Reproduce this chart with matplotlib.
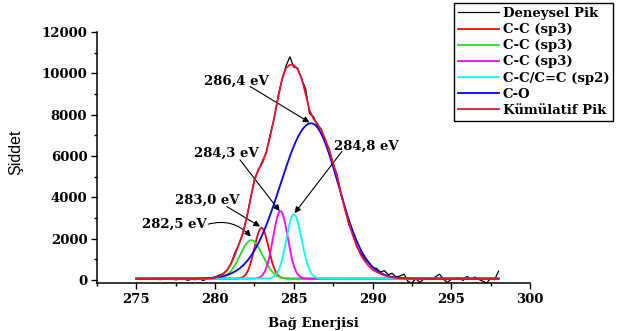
import numpy as np
import matplotlib
matplotlib.use("Agg")
import matplotlib.pyplot as plt
from matplotlib.ticker import MultipleLocator

# ---------------- data ----------------
# binding energy grid for measured / cumulative curves: 275..298 eV, 0.25 eV step
exp_start, exp_stop = 275.0, 298.0
exp_counts = [
    40, 60, 20, 55, 30, 70, 10, 45, 25, 60, 0, 40, 65, -20, 30, 10, 55, -30, 60, 90,
    140, 230, 300, 470, 780, 1300, 1700, 2250, 3000, 3900, 4900, 5300, 5750, 6150, 7050, 7800,
    8900, 9700, 10350, 10800, 10300, 10250, 9700, 9250, 8050, 7900, 7450, 7300,
    6700, 6350, 5550, 5100, 4100, 3500, 2650, 2250, 1600, 1300, 1000, 850,
    600, 560, 380, 450, 250, 320, 140, 190, 280, -80, -150, 60, -120, 40, 90, 20,
    150, 280, 40, -130, 30, 70, 110, -30, 170, 60, 140, 20, -60, -150, 80, 10, 420,
]
cum_counts = [
    70, 70, 70, 70, 70, 70, 70, 70, 70, 70, 70, 70, 70, 70, 70, 70, 70, 70, 70, 80,
    110, 170, 270, 450, 760, 1200, 1700, 2200, 2950, 3950, 4800, 5350, 5650, 6200, 6950, 7850,
    8800, 9700, 10250, 10420, 10400, 10200, 9750, 9000, 8200, 7800, 7550, 7250,
    6800, 6250, 5650, 5000, 4200, 3400, 2750, 2150, 1650, 1220, 920, 680,
    500, 390, 300, 220, 160, 120, 95, 80, 70, 70, 70, 70, 70, 70, 70, 70,
    70, 70, 70, 70, 70, 70, 70, 70, 70, 70, 70, 70, 70, 70, 70, 70, 70,
]

# fitted components: centre (eV), height, left sigma, right sigma
comp_labels = ["C-C (sp3)", "C-C (sp3)", "C-C (sp3)", "C-C/C=C (sp2)", "C-O"]
comp_colors = ["#ff0000", "#22dd22", "#ff00ff", "#00ffff", "#0000ff"]
comp_centre = [282.95, 282.3, 284.15, 285.0, 286.1]
comp_height = [2460, 1860, 3270, 3120, 7520]
comp_sig_l = [0.45, 0.72, 0.47, 0.48, 1.95]
comp_sig_r = [0.45, 0.72, 0.47, 0.5, 1.72]
baseline = 60

exp_label = "Deneysel Pik"
cum_label = "Kümülatif Pik"

annot_texts = ["286,4 eV", "284,3 eV", "283,0 eV", "282,5 eV", "284,8 eV"]

x_ticks = [275, 280, 285, 290, 295, 300]
y_ticks = [0, 2000, 4000, 6000, 8000, 10000, 12000]

# ---------------- figure ----------------
plt.rcParams['font.family'] = ['DejaVu Serif']
plt.rcParams['font.weight'] = 'bold'

W, H = 619, 331
fig = plt.figure(figsize=(W / 100, H / 100), dpi=100)
ax = fig.add_axes([97 / W, 1 - 283 / H, (530 - 97) / W, (283 - 32) / H])

xe = np.linspace(exp_start, exp_stop, len(exp_counts))
xc = np.linspace(exp_start, exp_stop, len(cum_counts))
xf = np.linspace(exp_start, exp_stop, 921)

ax.plot(xe, exp_counts, color="black", lw=0.9, label=exp_label, zorder=2)

for lab, col, c, h, sl, sr in zip(comp_labels, comp_colors, comp_centre,
                                  comp_height, comp_sig_l, comp_sig_r):
    sig = np.where(xf < c, sl, sr)
    y = h * np.exp(-0.5 * ((xf - c) / sig) ** 2)
    ax.plot(xf, y + baseline, color=col, lw=1.3, label=lab, zorder=3)

ax.plot(xc, cum_counts, color="#f01030", lw=1.3, label=cum_label, zorder=4)

# annotations
arrow_kw = dict(arrowstyle="-|>", color="black", lw=0.8, mutation_scale=9,
                shrinkA=0, shrinkB=0)
fs = 9.5
ax.text(281.33, 9607, annot_texts[0], ha="center", va="center", fontsize=fs)
ax.annotate("", xy=(286.0, 7620), xytext=(282.22, 9365), arrowprops=arrow_kw)
ax.text(280.71, 6138, annot_texts[1], ha="center", va="center", fontsize=fs)
ax.annotate("", xy=(284.1, 3330), xytext=(281.58, 5813), arrowprops=arrow_kw)
ax.text(279.52, 3876, annot_texts[2], ha="center", va="center", fontsize=fs)
ax.annotate("", xy=(282.86, 2583), xytext=(280.74, 3551), arrowprops=arrow_kw)
ax.text(277.44, 2698, annot_texts[3], ha="center", va="center", fontsize=fs)
ax.annotate("", xy=(282.27, 2098), xytext=(279.57, 2698),
            arrowprops=dict(arrow_kw, connectionstyle="arc3,rad=-0.3"))
ax.text(289.62, 6458, annot_texts[4], ha="center", va="center", fontsize=fs)
ax.annotate("", xy=(285.05, 3231), xytext=(288.05, 6216), arrowprops=arrow_kw)

# axes
ax.set_xlim(272.5, 300)
ax.set_ylim(-150, 12000)
ax.set_xticks(x_ticks)
ax.set_yticks(y_ticks)
ax.xaxis.set_minor_locator(MultipleLocator(2.5))
ax.yaxis.set_minor_locator(MultipleLocator(1000))
ax.tick_params(which="major", direction="out", length=4, width=1, labelsize=9.5, pad=3)
ax.tick_params(which="minor", direction="out", length=2.5, width=1)
for s in ("top", "right"):
    ax.spines[s].set_visible(False)
for s in ("left", "bottom"):
    ax.spines[s].set_linewidth(1.1)
for t in ax.get_xticklabels() + ax.get_yticklabels():
    t.set_fontweight("bold")

ax.set_xlabel("Bağ Enerjisi", fontsize=9.5, fontweight="bold", labelpad=8)
fig.text(16 / W, 1 - 152 / H, "Şiddet", rotation=90, ha="center", va="center",
         fontsize=11.5, fontweight="normal",
         family=["Liberation Sans Narrow", "Liberation Sans"])

leg = ax.legend(loc="upper left", bbox_to_anchor=(454 / W, 1 - 3 / H),
                bbox_transform=fig.transFigure, frameon=True, fancybox=False,
                edgecolor="black", framealpha=1, fontsize=9.5,
                handlelength=3.1, handletextpad=0.3, labelspacing=0.24,
                borderpad=0.3, borderaxespad=0)
leg.get_frame().set_linewidth(1.0)

fig.savefig("out.png", dpi=100)
